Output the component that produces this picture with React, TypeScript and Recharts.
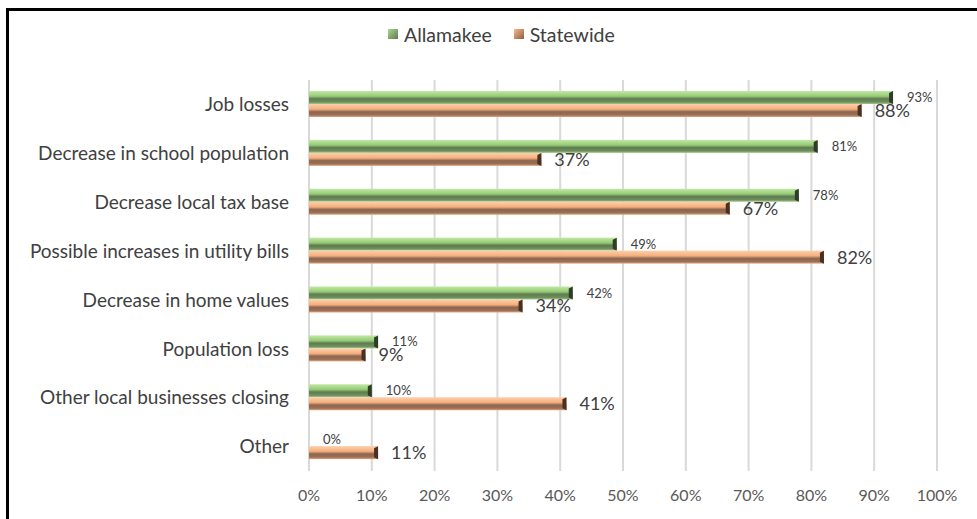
import React from 'react';
import { BarChart, Bar, XAxis, YAxis, CartesianGrid, Legend, LabelList } from 'recharts';

const categories = [
  'Job losses',
  'Decrease in school population',
  'Decrease local tax base',
  'Possible increases in utility bills',
  'Decrease in home values',
  'Population loss',
  'Other local businesses closing',
  'Other',
];
const allamakee = [93, 81, 78, 49, 42, 11, 10, 0];
const statewide = [88, 37, 67, 82, 34, 9, 41, 11];
const xTicks = [0, 10, 20, 30, 40, 50, 60, 70, 80, 90, 100];

const data = categories.map((name, i) => ({
  name,
  Allamakee: allamakee[i],
  Statewide: statewide[i],
}));

const FONT = 'Lato, "Noto Sans", sans-serif';

// 3D-ish bar: vertical gradient plus dark end cap
const makeShape = (gradId: string, cap: string) => (props: any) => {
  const { x, y, width, height } = props;
  if (!width || width <= 0) return <g />;
  const c = Math.min(4, width);
  return (
    <g>
      <rect x={x} y={y} width={width} height={height} fill={`url(#${gradId})`} />
      <polygon
        points={`${x + width - c},${y + 2} ${x + width},${y} ${x + width},${y + height} ${x + width - c},${y + height - 2}`}
        fill={cap}
      />
    </g>
  );
};

const greenShape = makeShape('gGreen', '#2f3d28');
const orangeShape = makeShape('gOrange', '#4a3022');

const legendItems = [
  { label: 'Allamakee', a: '#a9d88a', b: '#5f7a52', gap: 22 },
  { label: 'Statewide', a: '#f8b98a', b: '#8c5f45', gap: 0 },
];

const LegendContent = () => (
  <div style={{ display: 'flex', justifyContent: 'flex-start', alignItems: 'center', height: 24, paddingLeft: 388, fontFamily: FONT, fontSize: 19.5, color: '#404040' }}>
    {legendItems.map((it) => (
      <div key={it.label} style={{ display: 'flex', alignItems: 'center', marginRight: it.gap }}>
        <span style={{ display: 'inline-block', width: 10, height: 10, marginRight: 6, background: `linear-gradient(135deg, ${it.a}, ${it.b})` }} />
        <span>{it.label}</span>
      </div>
    ))}
  </div>
);

export default function App() {
  return (
    <div style={{ position: 'absolute', left: 0, top: 0, width: 977, height: 519, background: '#fff', overflow: 'hidden' }}>
      <div style={{ position: 'absolute', left: 6, top: 8, width: 1000, height: 600, borderTop: '3px solid #000', borderLeft: '3px solid #000', boxSizing: 'border-box' }} />
      <BarChart
        width={977}
        height={519}
        data={data}
        layout="vertical"
        margin={{ top: 56, right: 40, left: 0, bottom: 18 }}
        barSize={13}
        barGap={0}
        style={{ position: 'absolute', left: 0, top: 0 }}
      >
        <defs>
          <linearGradient id="gGreen" x1="0" y1="0" x2="0" y2="1">
            <stop offset="0" stopColor="#c2e8a6" />
            <stop offset="0.4" stopColor="#95cb74" />
            <stop offset="0.6" stopColor="#5f7a52" />
            <stop offset="0.85" stopColor="#6f8f5e" />
            <stop offset="1" stopColor="#a3cc86" />
          </linearGradient>
          <linearGradient id="gOrange" x1="0" y1="0" x2="0" y2="1">
            <stop offset="0" stopColor="#fcd0ac" />
            <stop offset="0.4" stopColor="#f5ae7c" />
            <stop offset="0.6" stopColor="#8c6650" />
            <stop offset="0.85" stopColor="#9a7058" />
            <stop offset="1" stopColor="#e8a679" />
          </linearGradient>
        </defs>
        <CartesianGrid horizontal={false} vertical={true} stroke="#d9d9d9" strokeWidth={2} />
        <XAxis
          type="number"
          domain={[0, 100]}
          ticks={xTicks}
          tickFormatter={(v) => `${v}%`}
          axisLine={false}
          tickLine={false}
          tickMargin={13}
          height={30}
          tick={{ fontSize: 16, fill: '#595959', fontFamily: FONT }}
          interval={0}
        />
        <YAxis
          type="category"
          dataKey="name"
          width={309}
          axisLine={false}
          tickLine={false}
          tickMargin={14}
          tick={{ fontSize: 19, fill: '#404040', fontFamily: FONT }}
          interval={0}
        />
        <Legend verticalAlign="top" wrapperStyle={{ top: 22 }} content={<LegendContent />} />
        <Bar dataKey="Allamakee" fill="#95cb74" shape={greenShape} isAnimationActive={false}>
          <LabelList dataKey="Allamakee" position="right" offset={14} formatter={(v: any) => `${v}%`} style={{ fontSize: 13, fill: '#404040', fontFamily: FONT }} />
        </Bar>
        <Bar dataKey="Statewide" fill="#f5ae7c" shape={orangeShape} isAnimationActive={false}>
          <LabelList dataKey="Statewide" position="right" offset={13} formatter={(v: any) => `${v}%`} style={{ fontSize: 18, fill: '#404040', fontFamily: FONT }} />
        </Bar>
      </BarChart>
    </div>
  );
}
